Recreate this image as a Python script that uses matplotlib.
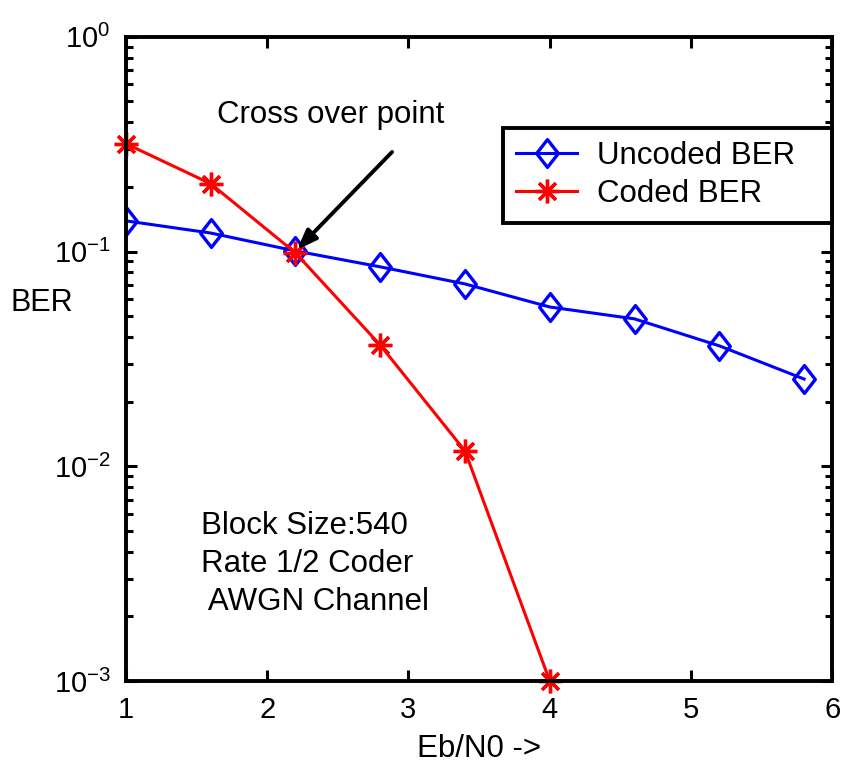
import numpy as np
import matplotlib
matplotlib.use('Agg')
import matplotlib.pyplot as plt
import matplotlib.ticker as ticker
from matplotlib.path import Path

# data
ebn0_uncoded = [1.0, 1.6, 2.2, 2.8, 3.4, 4.0, 4.6, 5.2, 5.8]
ber_uncoded = [0.139, 0.122, 0.1007, 0.0849, 0.0707, 0.0552, 0.0486, 0.0364, 0.0255]
ebn0_coded = [1.0, 1.6, 2.2, 2.8, 3.4, 4.0]
ber_coded = [0.318, 0.207, 0.0986, 0.0367, 0.0118, 0.001]

plt.rcParams['font.family'] = ['Liberation Sans', 'DejaVu Sans']
plt.rcParams['mathtext.fontset'] = 'custom'
plt.rcParams['mathtext.rm'] = 'Liberation Sans'
plt.rcParams['mathtext.it'] = 'Liberation Sans'
plt.rcParams['axes.unicode_minus'] = False

fig = plt.figure(figsize=(8.45, 7.67), dpi=100)
ax = fig.add_axes([0.149, 0.112, 0.836, 0.840])

# matlab-like tall diamond
diamond = Path([(0, 1), (0.78, 0), (0, -1), (-0.78, 0), (0, 1)],
               [Path.MOVETO, Path.LINETO, Path.LINETO, Path.LINETO, Path.CLOSEPOLY])

ax.semilogy(ebn0_uncoded, ber_uncoded, color='#0000ff', lw=2.2, marker=diamond,
            ms=20, mfc='none', mec='#0000ff', mew=2.4, label='Uncoded BER')
ax.semilogy(ebn0_coded, ber_coded, color='#ff0000', lw=2.2, marker=(8, 2, 0),
            ms=17, mec='#ff0000', mew=2.4, label='Coded BER', clip_on=False)

ax.set_xlim(1, 6)
ax.set_ylim(1e-3, 1e0)

ax.xaxis.set_major_locator(ticker.MultipleLocator(1))
ax.yaxis.set_major_locator(ticker.LogLocator(base=10, numticks=10))
ax.yaxis.set_minor_locator(ticker.LogLocator(base=10, subs=np.arange(2, 10), numticks=10))
ax.yaxis.set_minor_formatter(ticker.NullFormatter())

ax.tick_params(which='both', direction='in', top=True, right=True, width=2.2, labelsize=21, pad=11)
ax.tick_params(which='major', length=8)
ax.tick_params(which='minor', length=5)
for s in ax.spines.values():
    s.set_linewidth(2.8)

ax.set_xlabel('Eb/N0 ->', fontsize=22.5, labelpad=7)
ax.set_ylabel('BER', fontsize=22, rotation=0, ha='center', va='center')
ax.yaxis.set_label_coords(-0.119, 0.587)

ax.annotate('', xy=(2.211, 0.102), xytext=(2.884, 0.291),
            arrowprops=dict(arrowstyle='-|>,head_length=1.2,head_width=0.45', color='black', lw=2.8,
                            shrinkA=0, shrinkB=0))
ax.text(2.45, 0.433, 'Cross over point', fontsize=22.5, ha='center', va='center')

ax.text(1.53, 0.0062, 'Block Size:540\nRate 1/2 Coder\n AWGN Channel', fontsize=22.5,
        ha='left', va='top', linespacing=1.34)

leg = ax.legend(loc='upper left', bbox_to_anchor=(0.534, 0.7125, 0.466, 0.1462), mode='expand',
                borderaxespad=0, fontsize=22.5, fancybox=False, framealpha=1, edgecolor='black',
                handlelength=1.95, handletextpad=0.64, labelspacing=0.27, borderpad=0.42)
leg.get_frame().set_linewidth(2.8)

plt.savefig('out.png', dpi=100)
